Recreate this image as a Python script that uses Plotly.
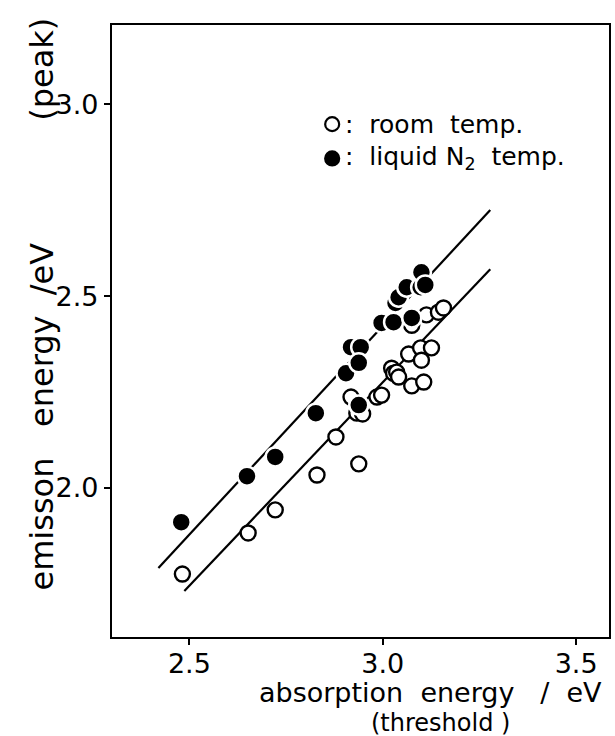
import plotly.graph_objects as go

# Room temperature (open circles): absorption threshold vs emission peak, eV
room_abs = [2.482, 2.652, 2.722, 2.830, 2.879, 2.938, 2.918, 2.933, 2.948, 2.985,
            2.997, 3.023, 3.028, 3.036, 3.041, 3.067, 3.098, 3.100, 3.126, 3.075,
            3.106, 3.075, 3.113, 3.144, 3.157]
room_emi = [1.776, 1.883, 1.943, 2.034, 2.133, 2.063, 2.237, 2.195, 2.193, 2.237,
            2.242, 2.312, 2.299, 2.302, 2.289, 2.349, 2.365, 2.333, 2.365, 2.266,
            2.276, 2.424, 2.451, 2.458, 2.469]

# Liquid N2 temperature (filled circles)
ln2_abs = [2.479, 2.649, 2.722, 2.827, 2.905, 2.918, 2.943, 2.938, 2.938, 2.997,
           3.028, 3.033, 3.041, 3.062, 3.098, 3.100, 3.110, 3.075]
ln2_emi = [1.911, 2.031, 2.081, 2.195, 2.299, 2.367, 2.367, 2.326, 2.216, 2.430,
           2.432, 2.482, 2.497, 2.523, 2.523, 2.562, 2.529, 2.443]

# Linear trend lines (end points)
ln2_fit_x = [2.420, 3.278]
ln2_fit_y = [1.792, 2.724]
room_fit_x = [2.487, 3.278]
room_fit_y = [1.732, 2.570]

x_ticks = [2.5, 3.0, 3.5]
y_ticks = [2.0, 2.5, 3.0]

FONT = "DejaVu Sans"

fig = go.Figure()
fig.add_trace(go.Scatter(x=ln2_fit_x, y=ln2_fit_y, mode="lines",
                         line=dict(color="black", width=2.2), hoverinfo="skip"))
fig.add_trace(go.Scatter(x=room_fit_x, y=room_fit_y, mode="lines",
                         line=dict(color="black", width=2.2), hoverinfo="skip"))
fig.add_trace(go.Scatter(x=room_abs, y=room_emi, mode="markers", name="room temp.",
                         marker=dict(symbol="circle", size=15, color="white",
                                     line=dict(color="black", width=2.4))))
fig.add_trace(go.Scatter(x=ln2_abs, y=ln2_emi, mode="markers", name="liquid N2 temp.",
                         marker=dict(symbol="circle", size=19, color="black",
                                     line=dict(color="white", width=2.5))))

# legend drawn by hand: symbols as pixel-sized shapes, labels as annotations
leg_x = 0.443
leg_rows = [(0.838, False, ":  room  temp."), (0.782, True, ":  liquid N<sub>2</sub>  temp.")]
for yy, filled, label in leg_rows:
    fig.add_shape(type="circle", xref="paper", yref="paper", xsizemode="pixel",
                  ysizemode="pixel", xanchor=leg_x, yanchor=yy, x0=-7, x1=7, y0=-7, y1=7,
                  line=dict(color="black", width=2.2),
                  fillcolor="black" if filled else "white")
    fig.add_annotation(xref="paper", yref="paper", x=leg_x + 0.022, y=yy, text=label,
                       showarrow=False, xanchor="left", yanchor="middle",
                       font=dict(family=FONT, size=25, color="black"))

fig.add_annotation(xref="paper", yref="paper", x=0.99, y=-0.0905,
                   text="absorption  energy   /  eV", showarrow=False,
                   xanchor="right", yanchor="middle",
                   font=dict(family=FONT, size=27, color="black"))
fig.add_annotation(xref="paper", yref="paper", x=0.661, y=-0.141,
                   text="(threshold )", showarrow=False,
                   xanchor="center", yanchor="middle",
                   font=dict(family=FONT, size=24, color="black"))
fig.add_annotation(xref="paper", yref="paper", x=-0.14, y=0.544,
                   text="emisson   energy  /eV            (peak)", showarrow=False,
                   textangle=-90, xanchor="center", yanchor="middle",
                   font=dict(family=FONT, size=32, color="black"))

axis_common = dict(showgrid=False, zeroline=False, showline=True, mirror=True,
                   linecolor="black", linewidth=2.2, ticks="outside", ticklen=6,
                   tickwidth=2, tickcolor="black",
                   tickfont=dict(family=FONT, size=27, color="black"))
fig.update_xaxes(range=[2.30, 3.585], tickvals=x_ticks, ticklabelstandoff=-5,
                 ticktext=[f"{v:.1f}" for v in x_ticks], **axis_common)
fig.update_yaxes(range=[1.612, 3.206], tickvals=y_ticks,
                 ticktext=[f"{v:.1f}" for v in y_ticks], **axis_common)

fig.update_layout(width=615, height=736, showlegend=False,
                  margin=dict(l=112, r=4, t=25, b=99),
                  paper_bgcolor="white", plot_bgcolor="white")

fig.write_html("out.html")
